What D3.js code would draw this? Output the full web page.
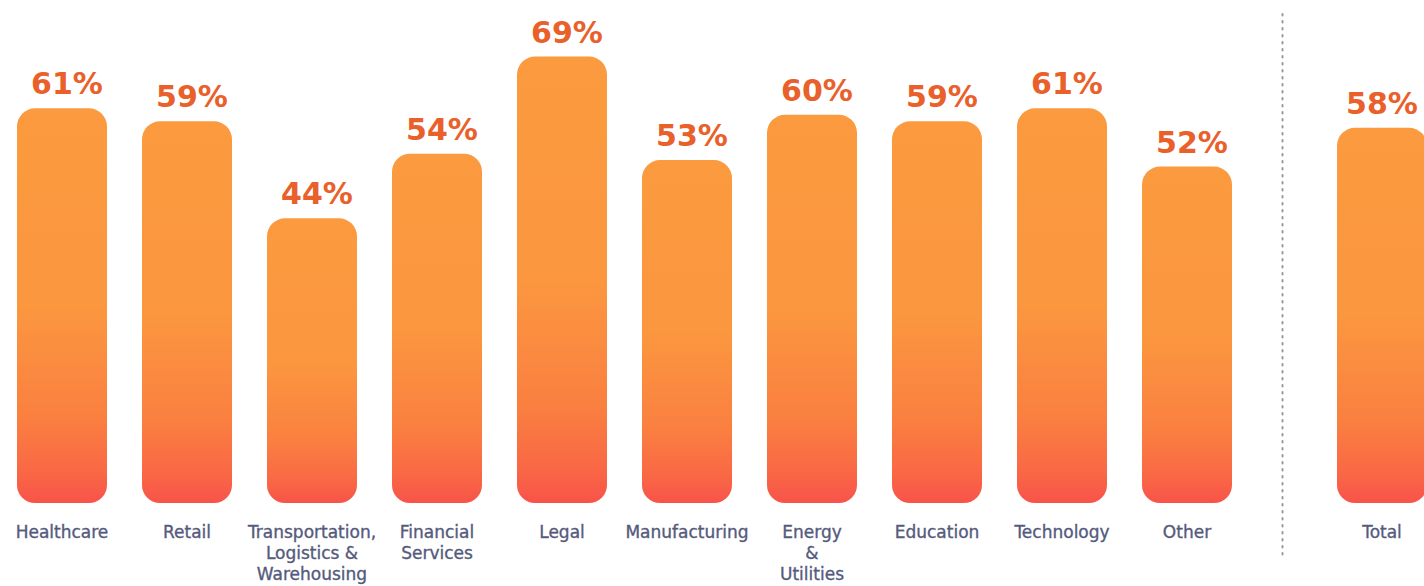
<!DOCTYPE html>
<html>
<head>
<meta charset="utf-8">
<script src="https://cdn.jsdelivr.net/npm/d3@7"></script>
<style>
  html, body { margin: 0; padding: 0; background: #ffffff; overflow: hidden; }
  svg { display: block; }
</style>
</head>
<body>
<svg id="chart" width="1424" height="586"></svg>
<script>
// Share of respondents by industry, plus the overall total
const categories = ["Healthcare", "Retail", "Transportation, Logistics & Warehousing",
  "Financial Services", "Legal", "Manufacturing", "Energy & Utilities",
  "Education", "Technology", "Other"];
const values = [61, 59, 44, 54, 69, 53, 60, 59, 61, 52];
// How each category name is wrapped under its bar
const labelLines = [
  ["Healthcare"], ["Retail"], ["Transportation,", "Logistics &", "Warehousing"],
  ["Financial", "Services"], ["Legal"], ["Manufacturing"], ["Energy", "&", "Utilities"],
  ["Education"], ["Technology"], ["Other"]
];
const totalCategory = ["Total"];
const totalValue = [58];

const svg = d3.select("#chart");

const defs = svg.append("defs");
const grad = defs.append("linearGradient")
  .attr("id", "barFill")
  .attr("x1", 0).attr("y1", 0).attr("x2", 0).attr("y2", 1);
[[0, "#fb9a3f"], [0.5, "#fb973f"], [0.78, "#fa8040"], [0.92, "#f96845"], [1, "#f8534a"]]
  .forEach(([o, c]) => grad.append("stop").attr("offset", o).attr("stop-color", c));

const y = d3.scaleLinear().domain([0, 69]).range([503, 56.6]);

const x = d3.scaleBand().domain(categories).range([17, 1232]).paddingInner(0.28).paddingOuter(0);
const xTotal = d3.scaleBand().domain(totalCategory).range([1337, 1427]).padding(0);

const radius = 18;
const valueColor = "#e9602b";
const labelColor = "#555a7d";

function drawGroup(scale, cats, vals, lines, valueShift) {
  const data = cats.map((c, i) => ({ c, v: vals[i], lines: lines[i] }));
  const g = svg.append("g");

  g.selectAll("rect.bar").data(data).join("rect")
    .attr("class", "bar")
    .attr("x", d => scale(d.c))
    .attr("y", d => y(d.v))
    .attr("width", scale.bandwidth())
    .attr("height", d => y(0) - y(d.v))
    .attr("rx", radius).attr("ry", radius)
    .attr("fill", "url(#barFill)");

  g.selectAll("text.value").data(data).join("text")
    .attr("class", "value")
    .attr("x", d => scale(d.c) + scale.bandwidth() / 2 + valueShift)
    .attr("y", d => y(d.v) - 14)
    .attr("text-anchor", "middle")
    .attr("font-family", "'DejaVu Sans', sans-serif")
    .attr("font-weight", "bold")
    .attr("font-size", 30)
    .attr("fill", valueColor)
    .text(d => d.v + "%");

  const lab = g.selectAll("text.cat").data(data).join("text")
    .attr("class", "cat")
    .attr("text-anchor", "middle")
    .attr("font-family", "'DejaVu Sans', sans-serif")
    .attr("font-size", 17)
    .attr("fill", labelColor)
    .attr("stroke", labelColor)
    .attr("stroke-width", 0.35);
  lab.selectAll("tspan").data(d => d.lines.map(t => ({ t, cx: scale(d.c) + scale.bandwidth() / 2 })))
    .join("tspan")
    .attr("x", d => d.cx)
    .attr("y", (d, i) => 538 + i * 21)
    .text(d => d.t);
}

drawGroup(x, categories, values, labelLines, 5);
drawGroup(xTotal, totalCategory, totalValue, [["Total"]], 0);

// Dotted divider between the industries and the total
svg.append("line")
  .attr("x1", 1282.5).attr("x2", 1282.5)
  .attr("y1", 14).attr("y2", 560)
  .attr("stroke", "#9a9a9a")
  .attr("stroke-width", 2)
  .attr("stroke-dasharray", "1.5 5.5")
  .attr("stroke-linecap", "round");
</script>
</body>
</html>
